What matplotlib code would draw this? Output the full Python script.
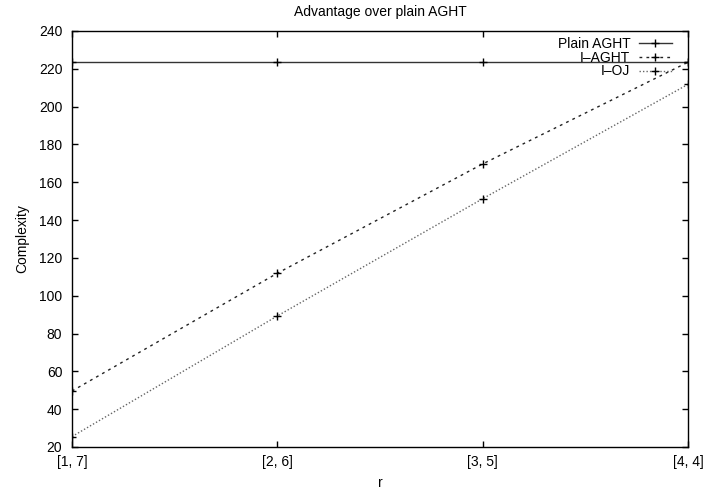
import matplotlib
matplotlib.use("Agg")
import matplotlib.pyplot as plt

plt.rcParams["font.family"] = ["Liberation Sans", "DejaVu Sans"]
plt.rcParams["font.size"] = 10

# values
r_labels = ["[1, 7]", "[2, 6]", "[3, 5]", "[4, 4]"]
plain_aght = [223.5, 223.5, 223.5, 223.5]
i_aght = [49.6, 111.9, 169.7, 223.5]
i_oj = [25.5, 89.3, 151.3, 211.8]

x = list(range(len(r_labels)))

fig = plt.figure(figsize=(7.05, 4.91), dpi=100)
ax = fig.add_axes([72 / 705, 44 / 491, 616 / 705, 416 / 491])

ax.plot(x, plain_aght, color="#333333", lw=1.0, marker="+", ms=6, mec="black",
        mew=1.0, label="Plain AGHT")
ax.plot(x, i_aght, color="#222222", lw=1.0, ls=(0, (2, 3)), marker="+", ms=6,
        mec="black", mew=1.0, label="I\u2013AGHT")
ax.plot(x, i_oj, color="#666666", lw=1.0, ls=(0, (1, 1.5)), marker="+", ms=6,
        mec="black", mew=1.0, label="I\u2013OJ")

ax.set_xlim(0, 3)
ax.set_ylim(20, 240)
ax.set_xticks(x)
ax.set_xticklabels(r_labels)
ax.set_yticks(range(20, 241, 20))
ax.tick_params(direction="in", top=True, right=True, length=4, width=1.0)
ax.tick_params(axis="x", pad=5.5)
ax.tick_params(axis="y", pad=7)
for s in ax.spines.values():
    s.set_linewidth(1.0)

ax.set_xlabel("r", labelpad=5.5)
ax.set_ylabel("Complexity", labelpad=7)
ax.set_title("Advantage over plain AGHT", pad=11, fontsize=10)

ax.legend(loc="upper right", frameon=False, markerfirst=False, handlelength=2.4,
          handletextpad=0.6, labelspacing=-0.02, borderpad=0, borderaxespad=0,
          bbox_to_anchor=((672 - 72) / 616, (447 - 37) / 416))

fig.savefig("out.png", dpi=100, facecolor="white")
